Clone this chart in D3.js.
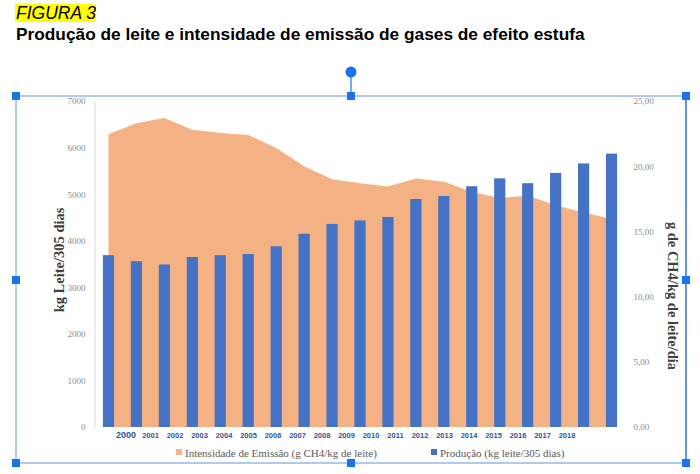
<!DOCTYPE html>
<html lang="pt">
<head>
<meta charset="UTF-8">
<title>Produção de leite e intensidade de emissão</title>
<script src="https://d3js.org/d3.v7.min.js"></script>
<style>
  body { margin: 0; background: #fff; }
  .tick text { font-family: "Liberation Serif", serif; font-size: 9px; fill: #8c8c8c; }
  .axis-title { font-family: "Liberation Serif", serif; font-weight: bold; font-size: 14.5px; fill: #404040; }
  .year text { font-family: "Liberation Sans", sans-serif; font-weight: bold; font-size: 7.5px; fill: #2f5597; }
  .legend text { font-family: "Liberation Serif", serif; font-size: 11px; fill: #595959; }
</style>
</head>
<body>
<svg id="chart"></svg>
<script>
// categories
var years = ["2000","2001","2002","2003","2004","2005","2006","2007","2008","2009",
             "2010","2011","2012","2013","2014","2015","2016","2017","2018"];

// Produção (kg leite/305 dias) - left axis
var producao = [3690, 3560, 3490, 3650, 3690, 3715, 3880, 4150, 4360, 4435,
                4510, 4895, 4960, 5170, 5340, 5235, 5455, 5660, 5870];

// Intensidade de Emissão (g CH4/kg de leite) - right axis
var intensidade = [22.45, 23.3, 23.7, 22.8, 22.55, 22.4, 21.4, 20.0, 19.0, 18.7,
                   18.45, 19.05, 18.8, 18.05, 17.55, 17.75, 17.0, 16.45, 15.95];

// tick labels
var leftTicks = [0, 1000, 2000, 3000, 4000, 5000, 6000, 7000];
var rightTicks = [0, 5, 10, 15, 20, 25];

var width = 700, height = 474;
var svg = d3.select('#chart').attr('width', width).attr('height', height);

// --- heading ---
svg.append('rect').attr('x', 15).attr('y', 4).attr('width', 81).attr('height', 18).attr('fill', '#ffff00');
svg.append('text').attr('x', 16).attr('y', 19)
   .style('font-family', '"Liberation Sans", Arial, sans-serif')
   .style('font-style', 'italic').style('font-size', '17.5px').attr('fill', '#000')
   .text('FIGURA 3');
svg.append('text').attr('x', 16).attr('y', 40)
   .style('font-family', '"Liberation Sans", Arial, sans-serif')
   .style('font-weight', 'bold').style('font-size', '17.3px').attr('fill', '#000')
   .text('Produção de leite e intensidade de emissão de gases de efeito estufa');

// --- scales ---
var plotLeft = 94.5, plotRight = 625.5, plotTop = 101, plotBottom = 427;

var x = d3.scaleBand().domain(years).range([plotLeft, plotRight])
          .paddingInner(0.6).paddingOuter(0.3);
var yLeft = d3.scaleLinear().domain([0, 7000]).range([plotBottom, plotTop]);
var yRight = d3.scaleLinear().domain([0, 25]).range([plotBottom, plotTop]);

// emission area
var area = d3.area()
    .x(function(d, i) { return x(years[i]) + x.bandwidth() / 2; })
    .y0(yRight(0))
    .y1(function(d) { return yRight(d); });

svg.append('path').datum(intensidade)
   .attr('fill', '#f4b183').attr('d', area);

// production bars
svg.selectAll('.bar').data(producao).enter().append('rect')
   .attr('class', 'bar')
   .attr('x', function(d, i) { return x(years[i]); })
   .attr('y', function(d) { return yLeft(d); })
   .attr('width', x.bandwidth())
   .attr('height', function(d) { return yLeft(0) - yLeft(d); })
   .attr('fill', '#4472c4');

// left axis
var gl = svg.append('g').attr('transform', 'translate(' + plotLeft + ',0)')
   .call(d3.axisLeft(yLeft).tickValues(leftTicks).tickSize(0).tickPadding(9).tickFormat(d3.format('d')));
gl.select('.domain').attr('stroke', '#d9d9d9');

// right axis
var commaFmt = function(d) { return d3.format('.2f')(d).replace('.', ','); };
var gr = svg.append('g').attr('transform', 'translate(' + plotRight + ',0)')
   .call(d3.axisRight(yRight).tickValues(rightTicks).tickSize(0).tickPadding(8).tickFormat(commaFmt));
gr.select('.domain').remove();

// year labels (sit loosely under the bars, as in the original)
var xLabels = d3.scalePoint().domain(years).range([126, 567]);
var gy = svg.append('g').attr('class', 'year').attr('transform', 'translate(0,438)');
gy.selectAll('text').data(years).enter().append('text')
   .attr('x', function(d) { return xLabels(d); })
   .attr('text-anchor', 'middle')
   .style('font-size', function(d, i) { return i === 0 ? '9px' : null; })
   .text(function(d) { return d; });

// axis titles
svg.append('text').attr('class', 'axis-title')
   .attr('transform', 'translate(64,260) rotate(-90)')
   .attr('text-anchor', 'middle').text('kg Leite/305 dias');
svg.append('text').attr('class', 'axis-title')
   .attr('transform', 'translate(668,296) rotate(90)')
   .attr('text-anchor', 'middle').text('g de CH4/kg de leite/dia');

// legend
var legendItems = [
  { label: 'Intensidade de Emissão (g CH4/kg de leite)', color: '#f4b183', x: 176 },
  { label: 'Produção (kg leite/305 dias)', color: '#4472c4', x: 431 }
];
var lg = svg.append('g').attr('class', 'legend');
var li = lg.selectAll('g').data(legendItems).enter().append('g')
   .attr('transform', function(d) { return 'translate(' + d.x + ',453)'; });
li.append('rect').attr('x', 0).attr('y', -4).attr('width', 6).attr('height', 6)
  .attr('fill', function(d) { return d.color; });
li.append('text').attr('x', 9).attr('y', 3.5).text(function(d) { return d.label; });

// selection frame with handles (the chart is shown selected)
var fx0 = 16, fx1 = 686, fy0 = 96, fy1 = 463, fmx = 351, fmy = 280;
svg.append('rect').attr('x', fx0).attr('y', fy0).attr('width', fx1 - fx0).attr('height', fy1 - fy0)
   .attr('fill', 'none').attr('stroke', '#7aa7e6').attr('stroke-width', 1.2);
svg.append('line').attr('x1', fx1).attr('x2', fx1).attr('y1', fy0).attr('y2', fy1)
   .attr('stroke', '#2f6fd6').attr('stroke-width', 1.2);
svg.append('line').attr('x1', fmx).attr('x2', fmx).attr('y1', 74).attr('y2', fy0)
   .attr('stroke', '#1a73e8').attr('stroke-width', 1.2);
svg.append('circle').attr('cx', fmx).attr('cy', 72).attr('r', 5.5).attr('fill', '#1a73e8');
var handles = [[fx0, fy0], [fmx, fy0], [fx1, fy0], [fx0, fmy], [fx1, fmy], [fx0, fy1], [fmx, fy1], [fx1, fy1]];
svg.selectAll('.handle').data(handles).enter().append('rect')
   .attr('class', 'handle')
   .attr('x', function(d) { return d[0] - 4; }).attr('y', function(d) { return d[1] - 4; })
   .attr('width', 8).attr('height', 8).attr('fill', '#1a73e8');
</script>
</body>
</html>
